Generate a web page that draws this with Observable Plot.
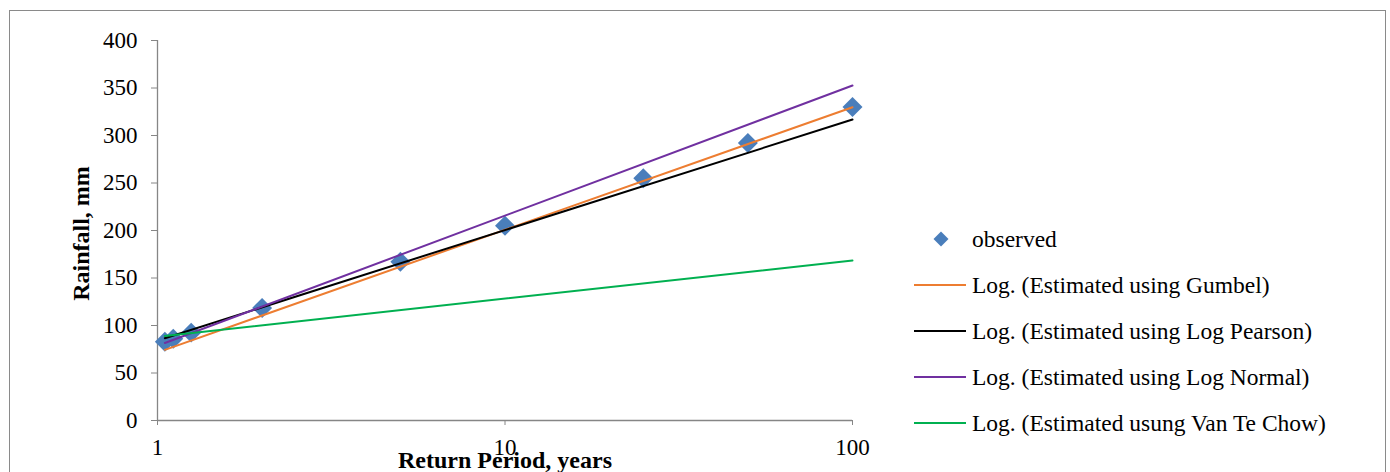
<!DOCTYPE html>
<html>
<head>
<meta charset="utf-8">
<script src="https://cdn.jsdelivr.net/npm/d3@7"></script>
<script src="https://cdn.jsdelivr.net/npm/@observablehq/plot@0.6"></script>
<style>
  html, body { margin: 0; padding: 0; background: #fff; }
  #wrap { position: relative; width: 1390px; height: 472px; overflow: hidden; font-family: "Liberation Serif", "Times New Roman", serif; }
  #frame { position: absolute; left: 9px; top: 10px; width: 1377px; height: 480px; border: 1.3px solid #8a8a8a; box-sizing: border-box; }
  #chart { position: absolute; left: 0; top: 0; }
  #legend { position: absolute; left: 914px; top: 216px; font-size: 23.5px; color: #000; }
  .row { display: flex; align-items: center; height: 46px; }
  .row svg { display: block; width: 58px; height: 46px; flex: none; }
  .row span { white-space: nowrap; }
</style>
</head>
<body>
<div id="wrap">
  <div id="frame"></div>
  <div id="chart"></div>
  <div id="legend"></div>
</div>
<script>
// Observed data
const returnPeriods = [1.05, 1.11, 1.25, 2, 5, 10, 25, 50, 100];
const observed = [83, 86, 92.5, 118.5, 167, 205, 255, 292, 330];

// Logarithmic trendlines (straight on log axis): start and end values
const trendPeriods = [1.05, 100];
const gumbel = [74.4, 329.8];
const logPearson = [86.6, 316.8];
const logNormal = [81.6, 352.6];
const vanTeChow = [89, 168.4];

const seriesNames = [
  "Log. (Estimated using Gumbel)",
  "Log. (Estimated using Log Pearson)",
  "Log. (Estimated using Log Normal)",
  "Log. (Estimated usung Van Te Chow)"
];
const seriesValues = [gumbel, logPearson, logNormal, vanTeChow];
const seriesColors = ["#ED7D31", "#000000", "#7030A0", "#00B050"];
const observedColor = "#4A7EBB";

const xTicks = [1, 10, 100];
const yTicks = [0, 50, 100, 150, 200, 250, 300, 350, 400];

const obsData = returnPeriods.map((t, i) => ({t, v: observed[i]}));
const lineData = seriesNames.flatMap((name, s) =>
  trendPeriods.map((t, i) => ({t, v: seriesValues[s][i], name})));

const plot = Plot.plot({
  width: 1390,
  height: 472,
  marginLeft: 157,
  marginRight: 538,
  marginTop: 40,
  marginBottom: 52,
  style: {fontFamily: "'Liberation Serif', 'Times New Roman', serif", fontSize: "23px", color: "#000", background: "transparent"},
  x: {type: "log", domain: [1, 100]},
  y: {domain: [0, 400]},
  color: {domain: seriesNames, range: seriesColors},
  marks: [
    Plot.axisY({ticks: yTicks, tickSize: 6, tickPadding: 14, label: null, stroke: "#868686", tickFormat: d => String(d), fontSize: 23}),
    Plot.axisX({ticks: xTicks, tickSize: 5, tickPadding: 13, label: null, stroke: "#868686", tickFormat: d => String(d), fontSize: 23}),
    Plot.ruleY([0], {stroke: "#868686", strokeWidth: 1.3}),
    Plot.ruleX([1], {stroke: "#868686", strokeWidth: 1.3}),
    Plot.dot(obsData, {x: "t", y: "v", symbol: "diamond2", r: 9, fill: observedColor, stroke: "none"}),
    Plot.line(lineData, {x: "t", y: "v", z: "name", stroke: "name", strokeWidth: 2}),
    Plot.text(["Return Period, years"], {frameAnchor: "bottom", lineAnchor: "middle", dy: 40, fontWeight: "bold", fontSize: 24, fill: "#000"}),
    Plot.text(["Rainfall, mm"], {frameAnchor: "left", textAnchor: "middle", lineAnchor: "middle", rotate: -90, dx: -76, dy: 3, fontWeight: "bold", fontSize: 24, fill: "#000"})
  ]
});
d3.select(plot).selectAll("[aria-label='y-axis tick label'], [aria-label='x-axis tick label']").attr("fill", "#000").attr("stroke", null);
document.getElementById("chart").appendChild(plot);

// Legend
const legend = d3.select("#legend");
const r0 = legend.append("div").attr("class", "row");
const s0 = r0.append("svg");
s0.append("path").attr("d", d3.symbol(d3.symbolDiamond2, 7.5 * 7.5 / 0.392)()).attr("transform", "translate(27,23)").attr("fill", observedColor);
r0.append("span").text("observed");
seriesNames.forEach((name, i) => {
  const r = legend.append("div").attr("class", "row");
  const s = r.append("svg");
  s.append("line").attr("x1", 0).attr("x2", 52).attr("y1", 23).attr("y2", 23).attr("stroke", seriesColors[i]).attr("stroke-width", 2);
  r.append("span").text(name);
});
</script>
</body>
</html>
